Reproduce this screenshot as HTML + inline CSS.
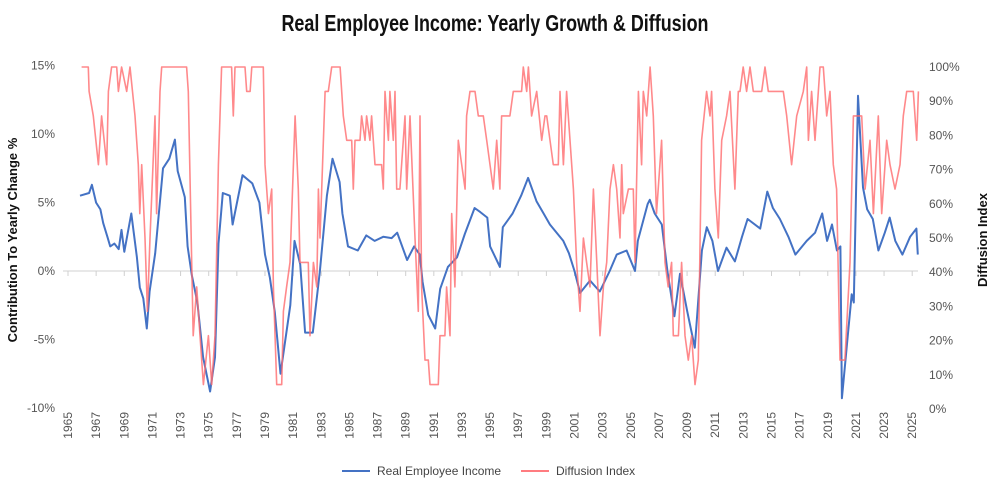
<!DOCTYPE html>
<html><head><meta charset="utf-8"><style>
body{margin:0;background:#fff;font-family:"Liberation Sans",sans-serif;}
svg text{font-family:"Liberation Sans",sans-serif;}
</style></head><body>
<svg id="c" width="1005" height="494" xmlns="http://www.w3.org/2000/svg">
<text x="495" y="31" text-anchor="middle" font-size="23" font-weight="bold" fill="#111" transform="translate(495,0) scale(0.78,1) translate(-495,0)">Real Employee Income: Yearly Growth &amp; Diffusion</text>
<text transform="translate(17,240) rotate(-90)" text-anchor="middle" font-size="13" font-weight="bold" fill="#111">Contribution To Yearly Change %</text>
<text transform="translate(987,240) rotate(-90)" text-anchor="middle" font-size="13" font-weight="bold" fill="#111">Diffusion Index</text>
<g id="axes"></g>
<g id="series"></g>
<g>
<line x1="342" y1="471" x2="370" y2="471" stroke="#4472c4" stroke-width="2"/>
<text x="377" y="475" font-size="12" fill="#444">Real Employee Income</text>
<line x1="521" y1="471" x2="549" y2="471" stroke="#ff7c80" stroke-width="2"/>
<text x="556" y="475" font-size="12" fill="#444">Diffusion Index</text>
</g>
</svg>
<script>
const leftTicks=[15,10,5,0,-5,-10];
const rightTicks=[100,90,80,70,60,50,40,30,20,10,0];
const yearTicks=[1965,1967,1969,1971,1973,1975,1977,1979,1981,1983,1985,1987,1989,1991,1993,1995,1997,1999,2001,2003,2005,2007,2009,2011,2013,2015,2017,2019,2021,2023,2025];
const incomeYears=[1965.85,1966.5,1966.7,1967.0,1967.3,1967.5,1967.8,1968.0,1968.3,1968.6,1968.8,1969.0,1969.5,1969.9,1970.1,1970.35,1970.6,1970.8,1971.2,1971.75,1972.2,1972.6,1972.8,1973.3,1973.5,1973.8,1974.2,1974.6,1975.1,1975.45,1975.7,1976.0,1976.5,1976.7,1977.4,1978.1,1978.6,1979.0,1979.35,1979.7,1980.1,1980.8,1981.1,1981.5,1981.85,1982.4,1982.9,1983.4,1983.8,1984.3,1984.5,1984.9,1985.6,1986.2,1986.8,1987.4,1988.0,1988.4,1989.1,1989.6,1990.0,1990.2,1990.6,1991.1,1991.45,1992.0,1992.65,1993.2,1993.9,1994.3,1994.8,1995.0,1995.7,1995.9,1996.6,1997.2,1997.7,1998.3,1998.8,1999.25,2000.2,2000.6,2001.0,2001.4,2002.1,2002.8,2003.5,2004.0,2004.7,2005.3,2005.5,2006.2,2006.35,2006.7,2007.2,2007.6,2008.1,2008.5,2009.0,2009.55,2010.05,2010.4,2010.8,2011.2,2011.8,2012.4,2012.9,2013.3,2014.2,2014.7,2015.1,2015.6,2016.2,2016.7,2017.5,2018.1,2018.6,2018.95,2019.3,2019.65,2019.9,2020.0,2020.45,2020.7,2020.85,2021.15,2021.5,2021.8,2022.2,2022.6,2023.05,2023.4,2023.8,2024.3,2024.85,2025.3,2025.4];
const incomeValues=[5.5,5.7,6.3,5.0,4.5,3.5,2.5,1.8,2.0,1.6,3.0,1.4,4.2,1.0,-1.2,-2.0,-4.2,-1.5,1.3,7.5,8.2,9.6,7.3,5.4,1.8,-0.3,-2.3,-6.3,-8.8,-6.3,2.0,5.7,5.5,3.4,7.0,6.4,5.0,1.2,-0.5,-3.0,-7.5,-2.5,2.2,0.5,-4.5,-4.5,0.0,5.5,8.2,6.5,4.2,1.8,1.5,2.6,2.2,2.5,2.4,2.8,0.8,1.8,1.2,-0.8,-3.2,-4.2,-1.3,0.3,1.0,2.7,4.6,4.3,3.9,1.8,0.3,3.2,4.2,5.5,6.8,5.1,4.2,3.4,2.2,1.3,0.0,-1.6,-0.7,-1.5,0.0,1.2,1.5,0.0,2.2,4.9,5.2,4.2,3.4,0.0,-3.3,-0.2,-2.9,-5.6,1.5,3.2,2.2,0.0,1.7,0.7,2.5,3.8,3.1,5.8,4.6,3.8,2.5,1.2,2.2,2.8,4.2,2.2,3.4,1.5,1.8,-9.3,-4.4,-1.7,-2.3,12.8,6.1,4.5,3.8,1.5,2.8,3.9,2.2,1.2,2.5,3.1,1.2,1.8];
const diffYears=[1965.97,1966.44,1966.5,1966.8,1967.16,1967.39,1967.75,1967.87,1968.1,1968.46,1968.58,1968.81,1969.17,1969.41,1969.76,1970.0,1970.1,1970.24,1970.47,1970.64,1970.83,1971.18,1971.3,1971.54,1971.66,1973.43,1973.55,1973.79,1973.9,1974.15,1974.38,1974.62,1974.98,1975.21,1975.45,1975.69,1975.92,1976.63,1976.75,1976.87,1977.58,1977.7,1977.94,1978.06,1978.88,1979.0,1979.24,1979.48,1979.6,1979.83,1980.19,1980.31,1980.54,1980.78,1981.14,1981.37,1981.49,1982.08,1982.2,1982.44,1982.68,1982.8,1982.91,1983.27,1983.5,1983.74,1984.34,1984.57,1984.81,1985.16,1985.28,1985.4,1985.75,1985.87,1986.11,1986.22,1986.46,1986.58,1986.82,1987.29,1987.41,1987.53,1987.77,1987.88,1988.12,1988.24,1988.36,1988.59,1988.83,1988.95,1989.07,1989.31,1989.66,1989.9,1990.02,1990.13,1990.37,1990.61,1990.73,1991.32,1991.44,1991.79,1991.91,1992.15,1992.27,1992.5,1992.74,1992.98,1993.22,1993.33,1993.57,1993.93,1994.16,1994.52,1994.76,1994.99,1995.23,1995.47,1995.7,1995.82,1996.41,1996.65,1997.24,1997.36,1997.6,1997.72,1997.95,1998.31,1998.67,1998.9,1999.02,1999.26,1999.49,1999.85,1999.97,2000.21,2000.44,2000.8,2000.92,2001.15,2001.39,2001.63,2001.86,2002.1,2002.34,2002.58,2002.81,2003.05,2003.29,2003.52,2003.76,2004.0,2004.23,2004.35,2004.47,2004.83,2005.18,2005.3,2005.54,2005.77,2005.89,2006.13,2006.37,2006.6,2006.83,2007.07,2007.19,2007.43,2007.66,2007.9,2008.02,2008.38,2008.61,2008.85,2009.09,2009.32,2009.56,2009.8,2010.03,2010.39,2010.63,2010.74,2010.98,2011.22,2011.46,2011.81,2012.05,2012.4,2012.64,2012.76,2012.99,2013.23,2013.47,2013.71,2014.3,2014.54,2014.77,2015.84,2016.08,2016.43,2016.79,2017.26,2017.5,2017.62,2017.85,2018.09,2018.45,2018.68,2018.92,2019.16,2019.39,2019.63,2019.87,2020.22,2020.58,2020.82,2021.41,2021.65,2022.0,2022.24,2022.59,2022.83,2023.19,2023.42,2023.78,2024.13,2024.37,2024.61,2025.08,2025.32,2025.44];
const diffSteps=[14,14,13,12,10,12,10,13,14,14,13,14,13,14,12,10,8,10,7,4,7,12,8,13,14,14,13,6,3,5,3,1,3,1,3,10,14,14,12,14,14,13,13,14,14,10,8,9,5,1,1,4,5,6,12,9,6,6,3,6,5,9,7,13,13,14,14,12,11,11,9,11,11,12,11,12,11,12,10,10,9,13,11,13,11,13,9,9,11,12,9,12,7,4,12,5,2,2,1,1,3,3,5,3,8,5,11,10,9,12,13,13,12,12,11,10,9,11,9,12,12,13,13,14,13,14,12,13,11,12,12,11,10,10,13,10,13,10,9,6,4,7,6,5,9,6,3,5,6,9,10,9,7,10,8,9,9,6,13,10,13,12,14,12,8,10,11,6,5,6,3,3,6,3,2,3,1,2,11,13,12,13,9,7,11,12,13,9,13,13,14,13,14,13,13,14,13,13,12,10,12,13,14,11,13,11,14,14,12,13,10,9,2,2,6,12,12,9,11,8,12,8,11,10,9,10,12,13,13,11,13];
const NS='http://www.w3.org/2000/svg';
const X=y=>68+(y-1965)*14.07;
const YL=v=>271-v*13.69;
const YR=d=>409-d*3.42;
const ax=document.getElementById('axes'), se=document.getElementById('series');
function mk(tag,attrs,parent,txt){const e=document.createElementNS(NS,tag);for(const k in attrs)e.setAttribute(k,attrs[k]);if(txt!==undefined)e.textContent=txt;parent.appendChild(e);return e;}
const zl=mk('line',{x1:63,x2:918,y1:YL(0),y2:YL(0),stroke:'#d0d0d0','stroke-width':1},ax);


leftTicks.forEach(v=>{const t=mk('text',{x:55,y:YL(v)+4,'text-anchor':'end','font-size':12,fill:'#555'},ax,v+'%');

});
rightTicks.forEach(v=>{const t=mk('text',{x:929,y:YR(v)+4,'font-size':12,fill:'#555'},ax,v+'%');

});
yearTicks.forEach(yr=>{const x=X(yr);
mk('line',{x1:x,x2:x,y1:YL(0),y2:YL(0)+5,stroke:'#d0d0d0'},ax);
const t=mk('text',{transform:`translate(${x+4},${412}) rotate(-90)`,'text-anchor':'end','font-size':12,fill:'#555'},ax,String(yr));

});
const pb=incomeYears.map((y,i)=>X(y).toFixed(1)+','+YL(incomeValues[i]).toFixed(1)).join(' ');
const lb=mk('polyline',{points:pb,fill:'none',stroke:'#4472c4','stroke-width':2,'stroke-linejoin':'round'},se);


const pr=diffYears.map((y,i)=>X(y).toFixed(1)+','+YR(diffSteps[i]/14*100).toFixed(1)).join(' ');
const lr=mk('polyline',{points:pr,fill:'none',stroke:'#ff6b6e','stroke-opacity':0.8,'stroke-width':1.6,'stroke-linejoin':'round'},se);


</script>
</body></html>
